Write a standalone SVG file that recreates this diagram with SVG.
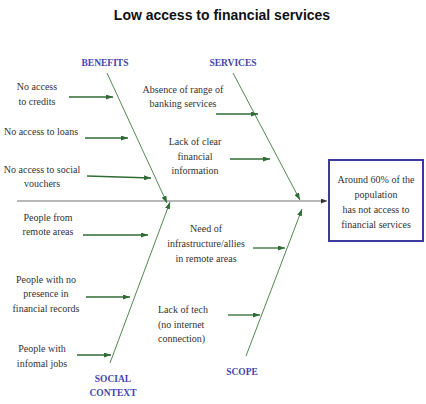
<svg xmlns="http://www.w3.org/2000/svg" width="426" height="404" viewBox="0 0 426 404">
<style>
.t{font-family:"Liberation Serif","Times New Roman",serif;font-size:10px;fill:#333;text-anchor:middle}
.l{font-family:"Liberation Serif","Times New Roman",serif;font-size:9.5px;font-weight:bold;fill:#4444b0;text-anchor:middle}
.title{font-family:"Liberation Sans",Arial,sans-serif;font-size:14px;font-weight:bold;fill:#111;text-anchor:middle}
.a{stroke:#2f6b35;stroke-width:1.3;fill:none;marker-end:url(#ga)}
.b{stroke:#3d7a3d;stroke-width:0.9;fill:none;marker-end:url(#gb)}
</style>
<defs>
<marker id="ga" markerUnits="userSpaceOnUse" markerWidth="7" markerHeight="5" refX="7" refY="2.5" orient="auto"><path d="M0,0 L7,2.5 L0,5 z" fill="#2f6b35"/></marker>
<marker id="gb" markerUnits="userSpaceOnUse" markerWidth="7" markerHeight="5" refX="7" refY="2.5" orient="auto"><path d="M0,0 L7,2.5 L0,5 z" fill="#2f6b35"/></marker>
<marker id="ka" markerUnits="userSpaceOnUse" markerWidth="6" markerHeight="5" refX="6" refY="2.5" orient="auto"><path d="M0,0 L6,2.5 L0,5 z" fill="#333"/></marker>
</defs>
<rect width="426" height="404" fill="#fff"/>
<text class="title" x="222" y="20">Low access to financial services</text>
<g id="connectors">
<line x1="17" y1="201" x2="327" y2="201" stroke="#a0a0a0" stroke-width="1.5" marker-end="url(#ka)"/>
<line class="b" x1="107" y1="73" x2="167" y2="203"/>
<line class="b" x1="233" y1="73" x2="300" y2="200"/>
<line class="b" x1="110" y1="363" x2="170" y2="202"/>
<line class="b" x1="246" y1="356" x2="302" y2="209"/>
<line class="a" x1="69" y1="97" x2="113" y2="97"/>
<line class="a" x1="85" y1="138" x2="128" y2="138"/>
<line class="a" x1="87" y1="176" x2="151" y2="178"/>
<line class="a" x1="216" y1="114" x2="258" y2="114"/>
<line class="a" x1="230" y1="159" x2="270" y2="159"/>
<line class="a" x1="83" y1="235" x2="148" y2="235"/>
<line class="a" x1="86" y1="297" x2="130" y2="297"/>
<line class="a" x1="77" y1="355" x2="111" y2="355"/>
<line class="a" x1="253" y1="248" x2="285" y2="248"/>
<line class="a" x1="228" y1="315" x2="260" y2="315"/>
</g>
<g id="benefits"><text class="l" x="105" y="65.5">BENEFITS</text></g>
<g id="services"><text class="l" x="233" y="65.5">SERVICES</text></g>
<g id="social"><text class="l" x="113" y="381.5">SOCIAL</text><text class="l" x="113" y="395.5">CONTEXT</text></g>
<g id="scope"><text class="l" x="242" y="374.5">SCOPE</text></g>
<g id="c1"><text class="t" x="37" y="89.5">No access</text><text class="t" x="37" y="104.5">to credits</text></g>
<g id="c2"><text class="t" x="41" y="134.5">No access to loans</text></g>
<g id="c3"><text class="t" x="42" y="172.5">No access to social</text><text class="t" x="42" y="186.5">vouchers</text></g>
<g id="c4"><text class="t" x="183" y="92.5">Absence of range of</text><text class="t" x="183" y="106.5">banking services</text></g>
<g id="c5"><text class="t" x="195" y="144.5">Lack of clear</text><text class="t" x="195" y="159.5">financial</text><text class="t" x="195" y="173.5">information</text></g>
<g id="c6"><text class="t" x="48" y="220.5">People from</text><text class="t" x="48" y="234.5">remote areas</text></g>
<g id="c7"><text class="t" x="46" y="282.5">People with no</text><text class="t" x="46" y="296.5">presence in</text><text class="t" x="46" y="311.5">financial records</text></g>
<g id="c8"><text class="t" x="42" y="351.5">People with</text><text class="t" x="42" y="366.5">infomal jobs</text></g>
<g id="c9"><text class="t" x="206" y="231.5">Need of</text><text class="t" x="206" y="246.5">infrastructure/allies</text><text class="t" x="206" y="261.5">in remote areas</text></g>
<g id="c10"><text class="t" x="158" y="312.5" style="text-anchor:start">Lack of tech</text><text class="t" x="158" y="327.5" style="text-anchor:start">(no internet</text><text class="t" x="158" y="341.5" style="text-anchor:start">connection)</text></g>
<g id="effect">
<rect x="329" y="160" width="94" height="81" fill="#fff" stroke="#3a3a9e" stroke-width="2"/>
<text class="t" x="376" y="182.5">Around 60% of the</text>
<text class="t" x="376" y="197.5">population</text>
<text class="t" x="376" y="212.5">has not access to</text>
<text class="t" x="376" y="227.5">financial services</text>
</g>
</svg>
